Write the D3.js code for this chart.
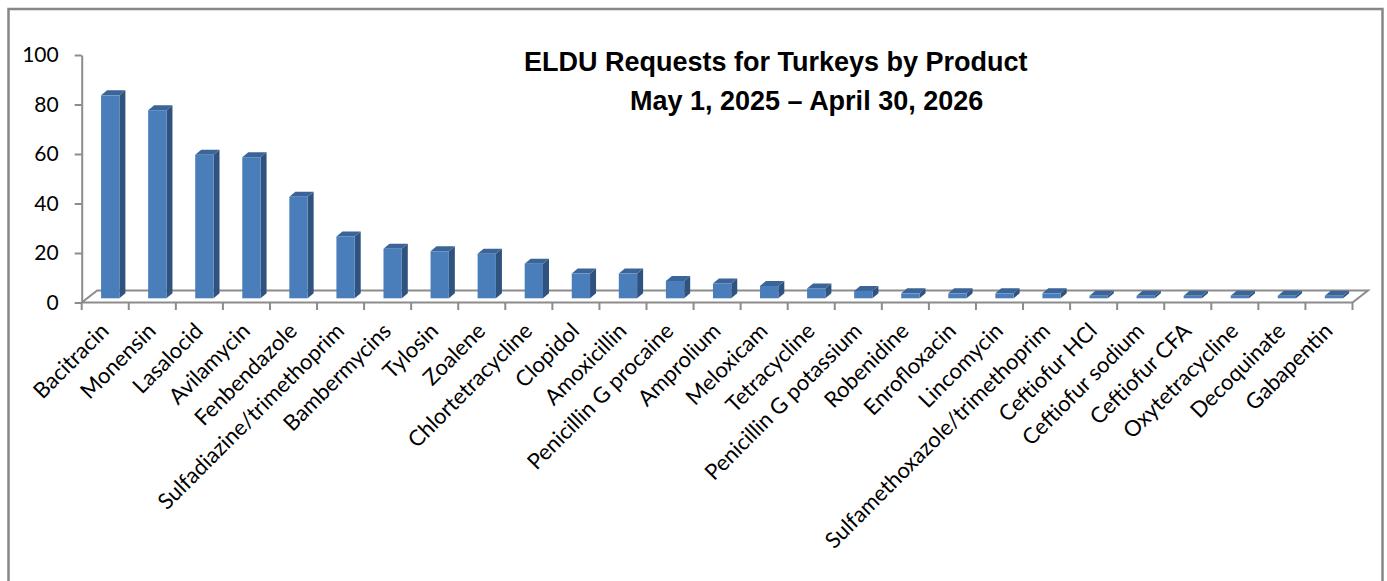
<!DOCTYPE html>
<html>
<head>
<meta charset="utf-8">
<script src="https://cdn.jsdelivr.net/npm/d3@7"></script>
<style>
  html, body { margin: 0; padding: 0; background: #fff; }
  svg { display: block; }
</style>
</head>
<body>
<svg id="chart" width="1387" height="581"></svg>
<script>
// ELDU requests for turkeys, per product
const categories = [
  "Bacitracin", "Monensin", "Lasalocid", "Avilamycin", "Fenbendazole",
  "Sulfadiazine/trimethoprim", "Bambermycins", "Tylosin", "Zoalene",
  "Chlortetracycline", "Clopidol", "Amoxicillin", "Penicillin G procaine",
  "Amprolium", "Meloxicam", "Tetracycline", "Penicillin G potassium",
  "Robenidine", "Enrofloxacin", "Lincomycin", "Sulfamethoxazole/trimethoprim",
  "Ceftiofur HCl", "Ceftiofur sodium", "Ceftiofur CFA", "Oxytetracycline",
  "Decoquinate", "Gabapentin"
];
const requests = [
  82, 76, 58, 57, 41,
  25, 20, 19, 18,
  14, 10, 10, 7,
  6, 5, 4, 3,
  2, 2, 2, 2,
  1, 1, 1, 1,
  1, 1
];
const yTicks = [0, 20, 40, 60, 80, 100];
const titleLines = ["ELDU Requests for Turkeys by Product", "May 1, 2025 \u2013 April 30, 2026"];

const svg = d3.select("#chart");

// plot frame (front plane of the 3-D floor)
const left = 81.7, right = 1352.5, base = 302.5, topY = 55;
const floorDepth = { dx: 15.5, dy: -12 };   // oblique depth of the floor
const barOffset = { dx: 5, dy: -4.2 };      // where the bar front face sits in depth
const barDepth = { dx: 6, dy: -5 };         // thickness of each bar
const faceW = 18.3;

const x = d3.scaleBand().domain(categories).range([left, right]).paddingInner(0).paddingOuter(0);
const y = d3.scaleLinear().domain([0, 100]).range([base, topY]);

const gridColor = "#8c8c8c";
const labelFont = "Lato, 'Open Sans', sans-serif";

// outer chart border
svg.append("rect")
  .attr("x", 8.5).attr("y", 9).attr("width", 1374).attr("height", 620)
  .attr("fill", "none").attr("stroke", "#878787").attr("stroke-width", 2.5);

// floor outline
const floorPts = [
  [left, base], [right, base],
  [right + floorDepth.dx, base + floorDepth.dy],
  [left + floorDepth.dx, base + floorDepth.dy]
];
svg.append("polygon")
  .attr("points", floorPts.map(p => p.join(",")).join(" "))
  .attr("fill", "#fff").attr("stroke", gridColor).attr("stroke-width", 2)
  .attr("stroke-linejoin", "miter");

// 3-D columns
const bars = svg.append("g").attr("class", "bars");
categories.forEach((c, i) => {
  const v = requests[i];
  const bx = x(c) + (x.bandwidth() - faceW) / 2 + barOffset.dx;
  const yt = y(v) + barOffset.dy;
  const yb = y(0) + barOffset.dy;
  const g = bars.append("g");
  // side face
  g.append("polygon")
    .attr("points", [
      [bx + faceW, yt], [bx + faceW + barDepth.dx, yt + barDepth.dy],
      [bx + faceW + barDepth.dx, yb + barDepth.dy], [bx + faceW, yb]
    ].map(p => p.join(",")).join(" "))
    .attr("fill", "#30527e");
  // top face
  g.append("polygon")
    .attr("points", [
      [bx, yt], [bx + barDepth.dx, yt + barDepth.dy],
      [bx + faceW + barDepth.dx, yt + barDepth.dy], [bx + faceW, yt]
    ].map(p => p.join(",")).join(" "))
    .attr("fill", "#3b6598");
  // front face
  g.append("rect")
    .attr("x", bx).attr("y", yt)
    .attr("width", faceW).attr("height", yb - yt)
    .attr("fill", "#4a7ebb");
});

// value axis
const yAxis = d3.axisLeft(y).tickValues(yTicks).tickSize(7).tickSizeOuter(0).tickPadding(16);
const yg = svg.append("g").attr("transform", `translate(${left},0)`).call(yAxis);
yg.select(".domain").attr("stroke", gridColor).attr("stroke-width", 2);
yg.selectAll(".tick line").attr("stroke", gridColor).attr("stroke-width", 2);
yg.selectAll(".tick text")
  .attr("font-family", labelFont).attr("font-size", 21).attr("fill", "#000");

// category tick marks at band boundaries
const bounds = categories.map(c => x(c)).concat([right]);
svg.append("g").selectAll("line").data(bounds).join("line")
  .attr("x1", d => d).attr("x2", d => d)
  .attr("y1", base).attr("y2", base + 7.5)
  .attr("stroke", gridColor).attr("stroke-width", 2);

// category labels, rotated
svg.append("g").selectAll("text").data(categories).join("text")
  .attr("transform", d => `translate(${x(d) + x.bandwidth() / 2 - 6},${base + 19}) rotate(-45)`)
  .attr("text-anchor", "end")
  .attr("dy", "0.7em")
  .attr("font-family", labelFont).attr("font-size", 22).attr("fill", "#000")
  .text(d => d);

// title
const title = svg.append("g")
  .attr("font-family", "'Liberation Sans', Arial, sans-serif")
  .attr("font-weight", "bold").attr("font-size", 27).attr("fill", "#000");
title.append("text").attr("x", 524).attr("y", 71).text(titleLines[0]);
title.append("text").attr("x", 630).attr("y", 110).text(titleLines[1]);
</script>
</body>
</html>
